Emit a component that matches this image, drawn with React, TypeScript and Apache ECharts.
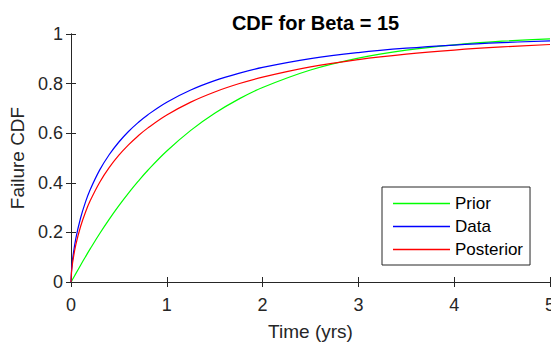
import React, { useEffect, useRef } from "react";
import * as echarts from "echarts";

const times = [0, 0.005, 0.01, 0.02, 0.05, 0.1, 0.15, 0.2, 0.3, 0.4, 0.5, 0.6, 0.7, 0.8, 1.0, 1.25, 1.5, 1.75, 2, 2.5, 3, 3.5, 4, 4.5, 5];
const prior = [0, 0.0032, 0.0065, 0.0133, 0.0337, 0.0677, 0.101, 0.1334, 0.1954, 0.2535, 0.3078, 0.3585, 0.4057, 0.4496, 0.5282, 0.6115, 0.6804, 0.7374, 0.7844, 0.8549, 0.9027, 0.9348, 0.9564, 0.9709, 0.9806];
const dataCdf = [0, 0.0436, 0.067, 0.102, 0.175, 0.258, 0.321, 0.372, 0.452, 0.514, 0.5645, 0.6067, 0.6427, 0.6738, 0.725, 0.774, 0.8118, 0.8414, 0.8653, 0.9007, 0.9252, 0.9427, 0.9555, 0.9651, 0.9723];
const posterior = [0, 0.036, 0.0558, 0.0859, 0.1497, 0.2238, 0.2805, 0.3272, 0.4023, 0.4619, 0.5112, 0.5528, 0.589, 0.6205, 0.6734, 0.7254, 0.7663, 0.7992, 0.8262, 0.8675, 0.897, 0.9188, 0.9352, 0.9478, 0.9576];

const seriesNames = ["Prior", "Data", "Posterior"];
const seriesColors = ["#00ff00", "#0000ff", "#ff0000"];
const titleText = "CDF for Beta = 15";
const xName = "Time (yrs)";
const yName = "Failure CDF";

const FONT = "'Liberation Sans', Arial, Helvetica, sans-serif";
const AX = "#262626";

export default function App() {
  const ref = useRef<HTMLDivElement>(null);
  useEffect(() => {
    if (!ref.current) return;
    const chart = echarts.init(ref.current, null, { renderer: "svg" });
    const values = [prior, dataCdf, posterior];
    const tickCommon = { show: true, inside: true, length: 5, lineStyle: { color: AX, width: 1 } };
    chart.setOption({
      animation: false,
      backgroundColor: "#ffffff",
      textStyle: { fontFamily: FONT },
      title: {
        text: titleText,
        left: 310.5,
        textAlign: "center",
        top: 8,
        textStyle: { fontFamily: FONT, fontSize: 20, fontWeight: "bold", color: "#000000" },
      },
      grid: { left: 71, right: 1, top: 34, bottom: 62, containLabel: false, outerBoundsMode: "none" },
      legend: {
        orient: "vertical",
        left: 382,
        top: 187,
        data: seriesNames.map((n, i) => ({
          name: n,
          icon: "rect",
          itemStyle: { color: seriesColors[i], borderWidth: 0, opacity: 1 },
        })),
        itemWidth: 57,
        itemHeight: 1.4,
        itemGap: 6,
        padding: [8, 7, 7, 11],
        borderColor: AX,
        borderWidth: 1,
        backgroundColor: "#ffffff",
        textStyle: { fontFamily: FONT, fontSize: 17, color: "#000000", lineHeight: 17 },
      },
      xAxis: [
        {
          type: "value",
          min: 0,
          max: 5,
          interval: 1,
          name: xName,
          nameLocation: "middle",
          nameGap: 40,
          nameTextStyle: { fontFamily: FONT, fontSize: 19, color: AX },
          axisLine: { show: true, lineStyle: { color: AX, width: 1 } },
          axisTick: tickCommon,
          axisLabel: { fontFamily: FONT, fontSize: 18, color: AX, margin: 14 },
          splitLine: { show: false },
        },
        {
          type: "value",
          position: "top",
          min: 0,
          max: 5,
          interval: 1,
          axisLine: { show: true, lineStyle: { color: AX, width: 1 } },
          axisTick: tickCommon,
          axisLabel: { show: false },
          splitLine: { show: false },
        },
      ],
      yAxis: [
        {
          type: "value",
          min: 0,
          max: 1,
          interval: 0.2,
          name: yName,
          nameLocation: "middle",
          nameGap: 36,
          nameTextStyle: { fontFamily: FONT, fontSize: 19, color: AX },
          axisLine: { show: true, lineStyle: { color: AX, width: 1 } },
          axisTick: tickCommon,
          axisLabel: {
            fontFamily: FONT,
            fontSize: 18,
            color: AX,
            margin: 8,
            formatter: (v: number) => String(Math.round(v * 10) / 10),
          },
          splitLine: { show: false },
        },
        {
          type: "value",
          position: "right",
          min: 0,
          max: 1,
          interval: 0.2,
          axisLine: { show: true, lineStyle: { color: AX, width: 1 } },
          axisTick: tickCommon,
          axisLabel: { show: false },
          splitLine: { show: false },
        },
      ],
      series: seriesNames.map((name, i) => ({
        name,
        type: "line",
        xAxisIndex: 0,
        yAxisIndex: 0,
        data: times.map((t, j) => [t, values[i][j]]),
        smooth: 0.4,
        symbol: "none",
        showSymbol: false,
        color: seriesColors[i],
        lineStyle: { color: seriesColors[i], width: 1.2 },
        itemStyle: { color: seriesColors[i] },
        z: 3 + i,
      })),
    });
    return () => chart.dispose();
  }, []);
  return <div ref={ref} style={{ position: "fixed", left: 0, top: 0, width: 551, height: 344 }} />;
}
